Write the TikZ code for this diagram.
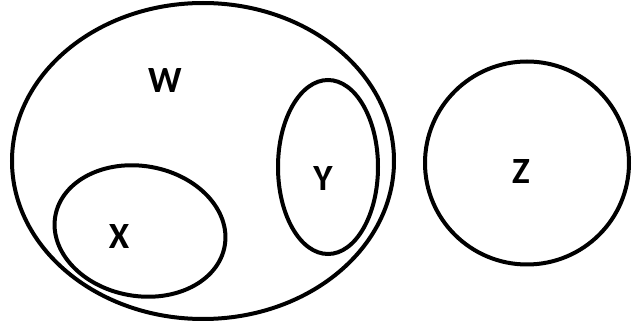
\documentclass[tikz,border=0pt]{standalone}
\usepackage{fontspec}
\setmainfont{Carlito}
\usetikzlibrary{shapes.geometric}
\begin{document}
\begin{tikzpicture}[x=1pt,y=-1pt,
  setshape/.style={draw=black, line width=4pt, ellipse, inner sep=0pt},
  lbl/.style={font=\bfseries\fontsize{37}{37}\selectfont, inner sep=0pt, text=black}]
\fill[white] (0,0) rectangle (633,334);
\useasboundingbox (0,0) rectangle (633,334);
\node[setshape, minimum width=382pt, minimum height=316pt] (W) at (203,161) {};
\node[setshape, minimum width=172pt, minimum height=130pt, rotate=-10] (X) at (140,231) {};
\node[setshape, minimum width=100pt, minimum height=174pt] (Y) at (328,167) {};
\node[setshape, minimum width=204pt, minimum height=203pt] (Z) at (527,163) {};
\node[lbl] (tw) at (165,81) {W};
\node[lbl] (tx) at (119,237) {X};
\node[lbl] (ty) at (323,179) {Y};
\node[lbl] (tz) at (521,172) {Z};
\end{tikzpicture}
\end{document}
